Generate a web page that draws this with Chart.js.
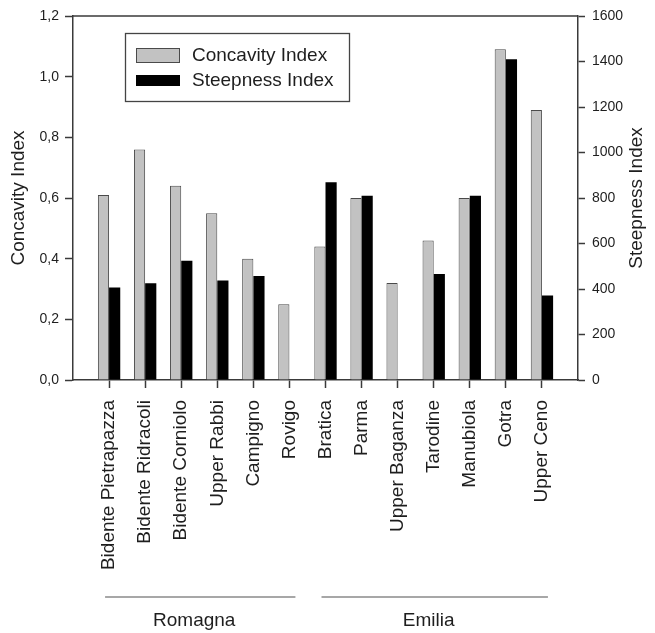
<!DOCTYPE html>
<html>
<head>
<meta charset="utf-8">
<script src="https://cdn.jsdelivr.net/npm/chart.js@4.4.1/dist/chart.umd.min.js"></script>
<style>
  html, body { margin:0; padding:0; background:#fff; }
  #wrap { width:655px; height:633px; }
</style>
</head>
<body>
<div id="wrap"><canvas id="chart" width="655" height="633"></canvas></div>
<script>
const categories = ['Bidente Pietrapazza','Bidente Ridracoli','Bidente Corniolo','Upper Rabbi','Campigno','Rovigo',
  'Bratica','Parma','Upper Baganza','Tarodine','Manubiola','Gotra','Upper Ceno'];
const concavity = [0.61, 0.76, 0.64, 0.55, 0.40, 0.25, 0.44, 0.60, 0.32, 0.46, 0.60, 1.09, 0.89];
const steepness = [407, 425, 524, 437, 457, null, 869, 810, null, 466, 810, 1410, 371];
const groupNames = ['Romagna', 'Emilia'];
const groupFirst = [0, 6];
const groupLast = [5, 12];

const FONT = "'Liberation Sans', Arial, sans-serif";
const INK = '#1e1e1e';
const AXIS = '#3a3a3a';

// one empty slot each side so the categories sit one step in from the frame
const labels = ['', ...categories, ''];
const pad = arr => [null, ...arr, null];

const framePlugin = {
  id: 'frame',
  afterDraw(chart){
    const {ctx, chartArea:a, scales:{x}} = chart;
    ctx.save();
    // top edge of the frame
    ctx.strokeStyle = AXIS; ctx.lineWidth = 1.5;
    ctx.beginPath(); ctx.moveTo(a.left, a.top); ctx.lineTo(a.right, a.top); ctx.stroke();

    // right axis title, reads bottom to top
    ctx.fillStyle = INK; ctx.font = '19px ' + FONT;
    ctx.translate(637, (a.top + a.bottom)/2); ctx.rotate(-Math.PI/2);
    ctx.textAlign = 'center'; ctx.textBaseline = 'middle';
    ctx.fillText('Steepness Index', 0, 0);
    ctx.setTransform(1,0,0,1,0,0);

    // legend box
    const ds = chart.data.datasets;
    ctx.lineWidth = 1.3; ctx.strokeStyle = '#444';
    ctx.strokeRect(125.5, 33.5, 224, 68);
    ctx.fillStyle = ds[0].backgroundColor; ctx.fillRect(136, 48, 44, 15);
    ctx.lineWidth = 1; ctx.strokeStyle = ds[0].borderColor; ctx.strokeRect(136.5, 48.5, 43, 14);
    ctx.fillStyle = ds[1].backgroundColor; ctx.fillRect(136, 75, 44, 11);
    ctx.fillStyle = INK; ctx.textAlign = 'left'; ctx.textBaseline = 'middle';
    ctx.font = '19px ' + FONT;
    ctx.fillText(ds[0].label, 192, 56);
    ctx.fillText(ds[1].label, 192, 81);

    // region groups under the labels
    ctx.strokeStyle = '#8a8a8a'; ctx.lineWidth = 1.5;
    groupNames.forEach((name, i) => {
      const x0 = x.getPixelForValue(groupFirst[i] + 1) - 4;
      const x1 = x.getPixelForValue(groupLast[i] + 1) + 6;
      ctx.beginPath(); ctx.moveTo(x0, 597); ctx.lineTo(x1, 597); ctx.stroke();
      ctx.textAlign = 'center';
      ctx.fillText(name, (x0 + x1)/2 - 6, 621);
    });
    ctx.restore();
  }
};

new Chart(document.getElementById('chart'), {
  type: 'bar',
  data: {
    labels,
    datasets: [
      { label:'Concavity Index', data: pad(concavity), yAxisID:'y',
        backgroundColor:'#c2c2c2', borderColor:'#4a4a4a', borderWidth:1 },
      { label:'Steepness Index', data: pad(steepness), yAxisID:'y1',
        backgroundColor:'#000000', borderColor:'#000000', borderWidth:0 }
    ]
  },
  options: {
    responsive:false, animation:false,
    layout:{ padding:{ top:16, left:0, right:0, bottom:0 } },
    datasets:{ bar:{ categoryPercentage:0.62, barPercentage:1.0 } },
    plugins:{ legend:{ display:false }, tooltip:{ enabled:false } },
    scales:{
      x:{
        offset:false,
        afterFit: s => { s.height = 253; },
        grid:{ offset:false, drawOnChartArea:false, tickLength:8,
          tickColor: c => (c.tick && c.tick.label) ? AXIS : 'rgba(0,0,0,0)', tickWidth:1.5 },
        border:{ color:AXIS, width:1.5 },
        ticks:{ autoSkip:false, minRotation:90, maxRotation:90, padding:12, color:INK,
          font:{ family:FONT, size:19 } }
      },
      y:{
        position:'left', min:0, max:1.2,
        afterFit: s => { s.width = 73; },
        grid:{ drawOnChartArea:false, tickLength:8, tickColor:AXIS, tickWidth:1.5 },
        border:{ color:AXIS, width:1.5 },
        ticks:{ stepSize:0.2, padding:6, color:INK, font:{ family:FONT, size:14 },
          callback: v => v.toFixed(1).replace('.', ',') },
        title:{ display:true, text:'Concavity Index', color:INK, padding:{ top:7, bottom:0 },
          font:{ family:FONT, size:19 } }
      },
      y1:{
        position:'right', min:0, max:1600,
        afterFit: s => { s.width = 77; },
        grid:{ drawOnChartArea:false, tickLength:7, tickColor:AXIS, tickWidth:1.5 },
        border:{ color:AXIS, width:1.5 },
        ticks:{ stepSize:200, padding:7, color:INK, font:{ family:FONT, size:14 },
          callback: v => String(v) }
      }
    }
  },
  plugins:[framePlugin]
});
</script>
</body>
</html>
